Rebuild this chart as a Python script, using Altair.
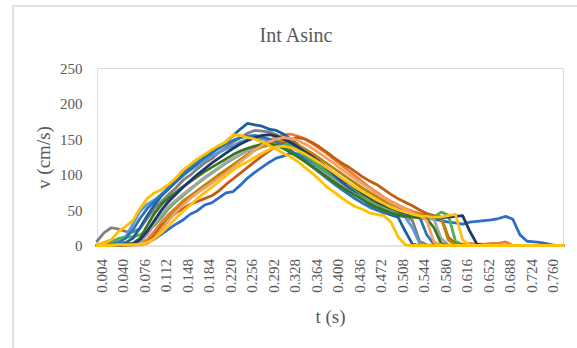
import altair as alt
import pandas as pd

t_values = [0.004, 0.016, 0.028, 0.040, 0.052, 0.064, 0.076, 0.088, 0.100, 0.112, 0.124,
            0.136, 0.148, 0.160, 0.172, 0.184, 0.196, 0.208, 0.220, 0.232, 0.244, 0.256,
            0.268, 0.280, 0.292, 0.304, 0.316, 0.328, 0.340, 0.352, 0.364, 0.376, 0.388,
            0.400, 0.412, 0.424, 0.436, 0.448, 0.460, 0.472, 0.484, 0.496, 0.508, 0.520,
            0.532, 0.544, 0.556, 0.568, 0.580, 0.592, 0.604, 0.616, 0.628, 0.640, 0.652,
            0.664, 0.676, 0.688, 0.700, 0.712, 0.724, 0.736, 0.748, 0.760, 0.772, 0.784]

tick_values = [0.004, 0.040, 0.076, 0.112, 0.148, 0.184, 0.220, 0.256, 0.292, 0.328, 0.364,
               0.400, 0.436, 0.472, 0.508, 0.544, 0.580, 0.616, 0.652, 0.688, 0.724, 0.760]
y_ticks = [0, 50, 100, 150, 200, 250]
chart_title = ["Int Asinc"]

s01 = [0, 0, 0, 1, 1, 2, 3, 5, 9, 16, 23, 30, 36, 44, 49, 57,
       60, 67, 74, 76, 85, 95, 103, 110, 117, 123, 126, 130, 129, 123, 117, 110,
       103, 96, 89, 82, 75, 69, 64, 58, 54, 50, 47, 45, 43, 41, 39, 37,
       35, 33, 32, 30, 33, 34, 35, 36, 38, 41, 37, 15, 6, 5, 4, 2, 0, 0]
s02 = [0, 4, 8, 5, 3, 2, 3, 8, 20, 33, 44, 53, 63, 70, 77, 84,
       90, 96, 104, 112, 121, 128, 135, 142, 148, 152, 156, 157, 154, 150, 144, 137,
       130, 122, 114, 106, 98, 90, 82, 75, 68, 62, 57, 52, 48, 45, 42, 40,
       39, 10, 3, 2, 3, 2, 2, 3, 3, 5, 0, 0, 0, 0, 0, 0, 0, 0]
s03 = [6, 18, 25, 23, 20, 19, 24, 38, 52, 62, 72, 81, 92, 99, 108, 116,
       122, 131, 138, 146, 152, 158, 162, 161, 160, 156, 150, 143, 136, 128, 121, 113,
       106, 98, 90, 82, 75, 68, 62, 57, 52, 48, 45, 42, 35, 6, 1, 0,
       0, 0, 0, 0, 0, 0, 0, 0, 0, 0, 0, 0, 0, 0, 0, 0, 0, 0]
s04 = [0, 0, 2, 5, 12, 30, 48, 58, 64, 72, 80, 89, 98, 106, 113, 120,
       126, 131, 136, 141, 146, 149, 151, 150, 148, 145, 140, 134, 127, 119, 111, 103,
       95, 87, 80, 73, 66, 60, 55, 50, 46, 44, 42, 40, 25, 3, 0, 0,
       0, 0, 0, 0, 0, 0, 0, 0, 0, 0, 0, 0, 0, 0, 0, 0, 0, 0]
s05 = [0, 0, 5, 10, 12, 12, 15, 20, 28, 40, 52, 62, 70, 79, 87, 95,
       102, 109, 116, 122, 128, 134, 139, 143, 145, 146, 144, 140, 134, 127, 120, 112,
       105, 97, 90, 83, 77, 71, 65, 60, 55, 51, 48, 45, 43, 41, 40, 40,
       47, 43, 6, 1, 0, 0, 0, 0, 0, 0, 0, 0, 0, 0, 0, 0, 0, 0]
s06 = [0, 0, 0, 1, 4, 10, 25, 42, 57, 70, 80, 90, 100, 108, 116, 124,
       131, 138, 146, 155, 164, 172, 170, 168, 164, 162, 157, 150, 142, 134, 126, 118,
       109, 100, 91, 82, 74, 66, 58, 52, 47, 43, 40, 20, 2, 0, 0, 0,
       0, 0, 0, 0, 0, 0, 0, 0, 0, 0, 0, 0, 0, 0, 0, 0, 0, 0]
s07 = [0, 0, 0, 0, 1, 1, 2, 4, 14, 28, 38, 46, 52, 58, 62, 66,
       70, 77, 86, 94, 102, 110, 118, 126, 133, 140, 145, 149, 152, 150, 145, 139,
       132, 124, 117, 111, 104, 97, 91, 86, 79, 72, 66, 61, 56, 50, 45, 42,
       40, 12, 2, 0, 0, 0, 0, 0, 0, 0, 0, 0, 0, 0, 0, 0, 0, 0]
s08 = [0, 0, 0, 0, 1, 2, 5, 15, 30, 44, 55, 64, 72, 80, 88, 96,
       103, 110, 117, 123, 128, 133, 136, 139, 141, 140, 137, 132, 126, 120, 113, 106,
       99, 92, 85, 78, 72, 66, 60, 55, 51, 47, 44, 42, 40, 39, 38, 37,
       10, 1, 0, 0, 0, 0, 0, 0, 0, 0, 0, 0, 0, 0, 0, 0, 0, 0]
s09 = [0, 0, 0, 0, 0, 1, 1, 3, 10, 25, 38, 50, 60, 69, 77, 85,
       92, 100, 107, 114, 121, 128, 134, 139, 143, 147, 148, 146, 142, 136, 130, 123,
       116, 109, 102, 95, 88, 81, 75, 69, 63, 58, 54, 50, 47, 44, 42, 41,
       40, 8, 1, 0, 0, 0, 0, 0, 0, 0, 0, 0, 0, 0, 0, 0, 0, 0]
s10 = [0, 0, 2, 4, 10, 22, 38, 52, 62, 72, 82, 92, 101, 110, 117, 124,
       130, 137, 143, 148, 152, 154, 155, 153, 150, 146, 140, 134, 127, 120, 112, 104,
       96, 88, 80, 73, 66, 60, 54, 50, 47, 45, 44, 43, 42, 40, 15, 2,
       0, 0, 0, 0, 0, 0, 0, 0, 0, 0, 0, 0, 0, 0, 0, 0, 0, 0]
s11 = [0, 0, 0, 1, 2, 3, 10, 28, 45, 58, 67, 75, 83, 90, 97, 104,
       110, 116, 122, 128, 133, 137, 140, 142, 143, 141, 137, 131, 125, 118, 111, 104,
       97, 90, 83, 77, 71, 65, 59, 54, 50, 46, 43, 41, 40, 39, 38, 25,
       3, 0, 0, 0, 0, 0, 0, 0, 0, 0, 0, 0, 0, 0, 0, 0, 0, 0]
s12 = [0, 0, 0, 0, 1, 2, 8, 20, 35, 50, 62, 72, 82, 91, 100, 108,
       116, 123, 130, 137, 143, 148, 152, 155, 156, 154, 150, 145, 139, 132, 125, 118,
       110, 102, 95, 88, 81, 74, 68, 62, 57, 53, 49, 46, 44, 42, 41, 40,
       39, 40, 41, 42, 20, 2, 0, 0, 0, 0, 0, 0, 0, 0, 0, 0, 0, 0]
s13 = [0, 0, 1, 1, 1, 1, 1, 3, 10, 22, 35, 47, 57, 66, 74, 81,
       88, 95, 102, 110, 118, 126, 134, 141, 146, 150, 152, 151, 148, 143, 137, 130,
       123, 116, 108, 101, 94, 87, 80, 73, 67, 61, 56, 51, 46, 42, 35, 5,
       1, 0, 0, 0, 0, 0, 0, 0, 0, 0, 0, 0, 0, 0, 0, 0, 0, 0]
s14 = [2, 3, 8, 20, 27, 35, 52, 66, 74, 79, 86, 95, 106, 114, 122, 128,
       135, 141, 146, 156, 155, 152, 150, 146, 141, 136, 130, 125, 118, 110, 102, 93,
       83, 76, 68, 61, 55, 51, 46, 44, 42, 33, 12, 1, 0, 0, 0, 0,
       0, 0, 0, 0, 0, 0, 0, 0, 0, 0, 0, 0, 0, 0, 0, 0, 0, 0]
s15 = [0, 0, 0, 1, 1, 1, 2, 4, 10, 18, 28, 38, 48, 57, 66, 74,
       82, 90, 98, 106, 113, 118, 124, 130, 135, 139, 140, 138, 134, 129, 123, 117,
       110, 103, 96, 89, 82, 76, 70, 64, 59, 54, 50, 47, 44, 42, 41, 40,
       40, 42, 44, 8, 1, 0, 0, 0, 0, 0, 0, 0, 0, 0, 0, 0, 0, 0]

series_names = ["s01", "s02", "s03", "s04", "s05", "s06", "s07", "s08",
                "s09", "s10", "s11", "s12", "s13", "s14", "s15"]
series_colors = ["#2C6FC6", "#ED7D31", "#7F7F7F", "#5B9BD5", "#4CAF50", "#1F5F9E",
                 "#C55A11", "#A5A5A5", "#B8860B", "#2E75B6", "#38761D", "#1F3A68",
                 "#F4A06A", "#FFC000", "#FFC20E"]
series_values = [s01, s02, s03, s04, s05, s06, s07, s08,
                 s09, s10, s11, s12, s13, s14, s15]

rows = []
for name, vals in zip(series_names, series_values):
    for t, v in zip(t_values, vals):
        rows.append({"series": name, "t": t, "v": v})
df = pd.DataFrame(rows)

FONT = "Liberation Serif"
GREY = "#595959"

frame = alt.Chart(alt.Data(values=[{"a": 1}])).mark_rect(
    filled=False, stroke="#E3E3E3", strokeWidth=2
).encode(
    x=alt.value(-84), x2=alt.value(700), y=alt.value(-62), y2=alt.value(600)
)

title = alt.Chart(alt.Data(values=[{"label": chart_title[0]}])).mark_text(
    font=FONT, fontSize=20, color=GREY, align="center", baseline="alphabetic"
).encode(
    text="label:N", x=alt.value(199), y=alt.value(-26)
)

lines = alt.Chart(df).mark_line(
    strokeWidth=2.8, strokeJoin="round", strokeCap="round"
).encode(
    x=alt.X("t:Q",
            scale=alt.Scale(domain=[0.004, 0.784], nice=False, zero=False),
            axis=alt.Axis(values=tick_values, format=".3f", labelAngle=270,
                          labelFont=FONT, labelFontSize=15, labelColor=GREY,
                          labelPadding=13, labelOffset=4, labelFlush=False,
                          labelOverlap=False, labelBound=False,
                          ticks=False, grid=False,
                          domainColor="#D9D9D9", domainWidth=1,
                          title="t (s)", titleFont=FONT, titleFontSize=19,
                          titleFontWeight="normal", titleColor=GREY,
                          titleX=233, titleY=77, titleAlign="center",
                          titleBaseline="alphabetic")),
    y=alt.Y("v:Q",
            scale=alt.Scale(domain=[0, 250], nice=False),
            axis=alt.Axis(values=y_ticks, labelFont=FONT, labelFontSize=15,
                          labelColor=GREY, labelPadding=15, ticks=False,
                          grid=False, domain=False,
                          title="v (cm/s)", titleFont=FONT, titleFontSize=19,
                          titleFontWeight="normal", titleColor=GREY,
                          titleAngle=270, titleX=-48, titleY=89,
                          titleAlign="center", titleBaseline="alphabetic")),
    color=alt.Color("series:N",
                    scale=alt.Scale(domain=series_names, range=series_colors),
                    legend=None),
    order=alt.Order("t:Q"),
)

chart = alt.layer(frame, lines, title).properties(
    width=466,
    height=177.5,
    padding={"left": 97, "top": 68, "right": 14, "bottom": 102},
    autosize=alt.AutoSizeParams(type="none"),
).configure_view(stroke=None).configure(background="white")

chart.save("out.html", embed_options={"renderer": "svg", "actions": False})
